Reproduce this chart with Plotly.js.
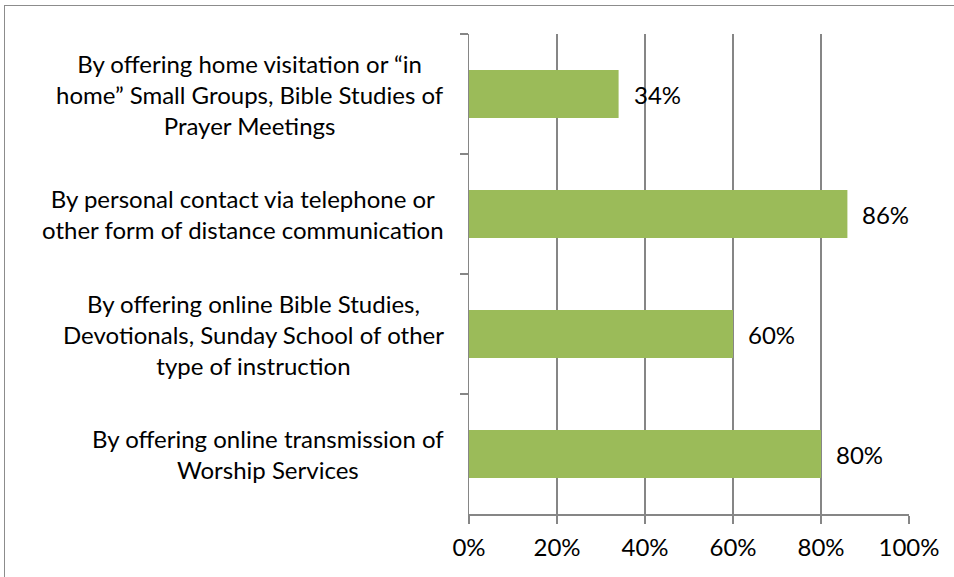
<!DOCTYPE html>
<html>
<head>
<meta charset="utf-8">
<script src="https://cdn.plot.ly/plotly-3.0.1.min.js"></script>
<style>
  html, body { margin: 0; padding: 0; background: #fff; }
  #frame { position: absolute; left: 4px; top: 5px; width: 960px; height: 600px;
           border-left: 1.5px solid #8c8c8c; border-top: 1.5px solid #8c8c8c; pointer-events: none; }
  #chart { width: 954px; height: 577px; }
</style>
</head>
<body>
<div id="chart"></div>
<div id="frame"></div>
<script>
const categories = [
  "By offering home visitation or \u201cin<br>home\u201d Small Groups, Bible Studies of<br>Prayer Meetings",
  "By personal contact via telephone or<br>other form of distance communication",
  "By offering online Bible Studies,<br>Devotionals, Sunday School of other<br>type of instruction",
  "By offering online transmission of<br>Worship Services"
];
const values = [0.34, 0.86, 0.60, 0.80];
const valueLabels = ["34%", "86%", "60%", "80%"];

const FONT = "Lato, 'Open Sans', sans-serif";
const FS = 24;

const trace = {
  type: 'bar',
  orientation: 'h',
  x: values,
  y: categories,
  marker: { color: '#9BBB59' },
  hoverinfo: 'none'
};

const annotations = [];
categories.forEach((c, i) => {
  annotations.push({
    xref: 'paper', yref: 'y', x: -0.053, y: c,
    xanchor: 'right', yanchor: 'middle', align: 'center',
    text: c, showarrow: false,
    font: { family: FONT, size: FS, color: '#000' }
  });
  annotations.push({
    xref: 'x', yref: 'y', x: values[i], y: c,
    xanchor: 'left', yanchor: 'middle', xshift: 13,
    text: valueLabels[i], showarrow: false,
    font: { family: FONT, size: FS, color: '#000' }
  });
});

const layout = {
  width: 954, height: 577,
  margin: { l: 468.5, r: 45, t: 34, b: 63 },
  paper_bgcolor: '#fff', plot_bgcolor: '#fff',
  showlegend: false,
  bargap: 0.6,
  font: { family: FONT, size: FS, color: '#000' },
  xaxis: {
    range: [0, 1], dtick: 0.2, tick0: 0, tickformat: '.0%',
    showgrid: true, gridcolor: '#868686', gridwidth: 1.5,
    showline: true, linecolor: '#868686', linewidth: 1.5,
    ticks: 'outside', ticklen: 8, tickcolor: '#868686', tickwidth: 1.5,
    zeroline: false, ticklabelstandoff: 4,
    tickfont: { family: FONT, size: FS, color: '#000' },
    fixedrange: true
  },
  yaxis: {
    autorange: 'reversed', type: 'category',
    showticklabels: false, tickson: 'boundaries',
    ticks: 'outside', ticklen: 8, tickcolor: '#868686', tickwidth: 1.5,
    showline: true, linecolor: '#868686', linewidth: 1.5,
    showgrid: false, zeroline: false, fixedrange: true
  },
  annotations: annotations
};

Plotly.newPlot('chart', [trace], layout, { displayModeBar: false, staticPlot: true });
</script>
</body>
</html>
